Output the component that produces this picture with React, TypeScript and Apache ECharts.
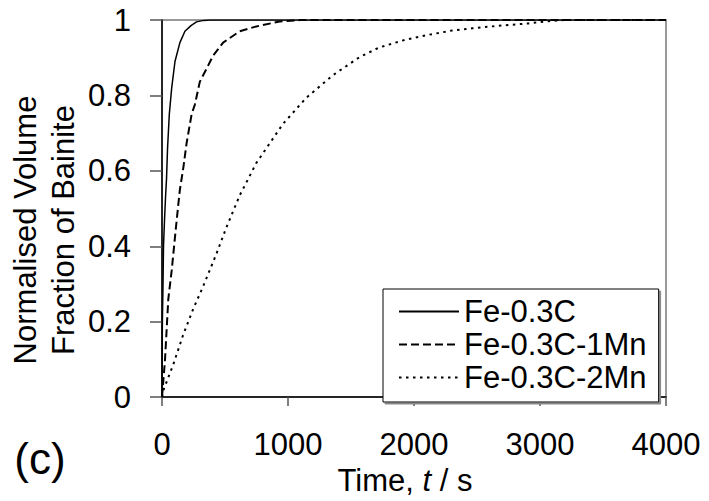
import React, { useEffect, useRef } from "react";
import * as echarts from "echarts";

const seriesNames = ["Fe-0.3C", "Fe-0.3C-1Mn", "Fe-0.3C-2Mn"];

const time0 = [0, 3, 8, 12, 20, 28, 36, 44, 58, 77, 103, 142, 182, 230, 274, 330, 380, 4000];
const frac0 = [0, 0.2, 0.3, 0.4, 0.47, 0.53, 0.58, 0.66, 0.75, 0.82, 0.89, 0.94, 0.97, 0.985, 0.995, 0.999, 1, 1];

const time1 = [0, 10, 24, 50, 77, 103, 129, 142, 170, 195, 235, 261, 300, 340, 405, 485, 617, 749, 933, 1100, 4000];
const frac1 = [0, 0.04, 0.1, 0.26, 0.336, 0.424, 0.51, 0.55, 0.61, 0.673, 0.75, 0.776, 0.836, 0.862, 0.905, 0.94, 0.97, 0.983, 0.996, 1, 1];

const time2 = [0, 11, 90, 168, 248, 327, 432, 511, 617, 749, 959, 1143, 1354, 1565, 1723, 1934, 2119, 2300, 2460, 2646, 2909, 3067, 3200, 4000];
const frac2 = [0, 0.018, 0.087, 0.165, 0.234, 0.294, 0.38, 0.45, 0.535, 0.621, 0.724, 0.793, 0.853, 0.901, 0.927, 0.948, 0.961, 0.972, 0.978, 0.984, 0.991, 0.997, 1, 1];

const xTicks = { min: 0, max: 4000, interval: 1000 };
const yTicks = { min: 0, max: 1, interval: 0.2 };

const FONT = "'Liberation Sans', Arial, sans-serif";

function pairs(t: number[], v: number[]) {
  return t.map((x, i) => [x, v[i]]);
}

export default function App() {
  const ref = useRef<HTMLDivElement>(null);
  useEffect(() => {
    if (!ref.current) return;
    const chart = echarts.init(ref.current, undefined, { renderer: "svg" });
    const lineStyles: any[] = [
      { color: "#000", width: 1.5, type: "solid" },
      { color: "#000", width: 2, type: [8, 4] },
      { color: "#000", width: 2, type: [2.5, 4.5] },
    ];
    const datas = [pairs(time0, frac0), pairs(time1, frac1), pairs(time2, frac2)];
    chart.setOption({
      animation: false,
      backgroundColor: "#fff",
      textStyle: { fontFamily: FONT, color: "#000" },
      grid: {
        left: 162,
        top: 20,
        right: 43,
        bottom: 94,
        show: true,
        borderColor: "#999",
        borderWidth: 2,
      },
      xAxis: {
        type: "value",
        min: xTicks.min,
        max: xTicks.max,
        interval: xTicks.interval,
        name: "Time, {i|t} / s",
        nameLocation: "middle",
        nameGap: 62,
        nameTextStyle: {
          fontSize: 31,
          color: "#000",
          fontFamily: FONT,
          padding: [0, 18, 0, 0],
          rich: {
            i: { fontSize: 31, fontStyle: "italic", fontFamily: FONT, color: "#000" },
          },
        },
        axisLine: { show: true, lineStyle: { color: "#000", width: 1.5 } },
        axisTick: { show: true, inside: false, length: 9, lineStyle: { color: "#555", width: 1.5 } },
        axisLabel: {
          fontSize: 31,
          color: "#000",
          fontFamily: FONT,
          margin: 32,
          formatter: (v: number) => String(v),
        },
        splitLine: { show: false },
      },
      yAxis: {
        type: "value",
        min: yTicks.min,
        max: yTicks.max,
        interval: yTicks.interval,
        axisLine: { show: true, lineStyle: { color: "#000", width: 1.5 } },
        axisTick: { show: true, inside: false, length: 12, lineStyle: { color: "#555", width: 1.5 } },
        axisLabel: {
          fontSize: 31,
          color: "#000",
          fontFamily: FONT,
          margin: 31,
          formatter: (v: number) => String(Math.round(v * 10) / 10),
        },
        splitLine: { show: false },
      },
      legend: {
        orient: "vertical",
        left: 383,
        top: 289,
        itemWidth: 60,
        itemHeight: 14,
        itemGap: 2,
        padding: [7, 12, 9, 15],
        borderColor: "#000",
        borderWidth: 1,
        backgroundColor: "#fff",
        shadowColor: "#888",
        shadowOffsetX: 2,
        shadowOffsetY: 2,
        shadowBlur: 0,
        itemStyle: { opacity: 0 },
        textStyle: { fontSize: 31, color: "#000", fontFamily: FONT },
        data: seriesNames,
      },
      graphic: [
        {
          type: "text",
          x: 44,
          y: 230,
          rotation: Math.PI / 2,
          style: {
            text: "Normalised Volume\nFraction of Bainite",
            fontSize: 31,
            fontFamily: FONT,
            fill: "#000",
            align: "center",
            verticalAlign: "middle",
            lineHeight: 38,
          },
        },
        {
          type: "text",
          x: 40,
          y: 458,
          style: {
            text: "(c)",
            fontSize: 44,
            fontFamily: FONT,
            fill: "#000",
            align: "center",
            verticalAlign: "middle",
          },
        },
      ],
      series: seriesNames.map((name, i) => ({
        name,
        type: "line",
        data: datas[i],
        showSymbol: false,
        symbol: "none",
        smooth: false,
        lineStyle: lineStyles[i],
        itemStyle: { color: "#000" },
        z: 3 - i,
      })),
    });
    return () => chart.dispose();
  }, []);
  return (
    <div
      ref={ref}
      style={{ position: "fixed", left: 0, top: 0, width: 709, height: 501 }}
    />
  );
}
